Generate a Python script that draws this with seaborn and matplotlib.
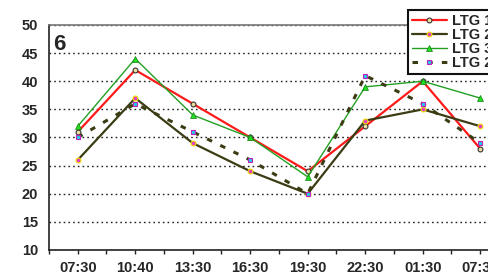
import pandas as pd
import matplotlib.pyplot as plt
import seaborn as sns

# Values
times = ["07:30", "10:40", "13:30", "16:30", "19:30", "22:30", "01:30", "07:30"]
ltg1 = [31, 42, 36, 30, 24, 32, 40, 28]
ltg2 = [26, 37, 29, 24, 20, 33, 35, 32]
ltg3 = [32, 44, 34, 30, 23, 39, 40, 37]
ltg2b = [30, 36, 31, 26, 20, 41, 36, 29]
series_names = ["LTG 1", "LTG 2", "LTG 3", "LTG 2"]

pos = list(range(len(times)))
frames = []
for i, (name, vals) in enumerate(zip(series_names, [ltg1, ltg2, ltg3, ltg2b])):
    frames.append(pd.DataFrame({"pos": pos, "value": vals, "series": f"{i}"}))
df = pd.concat(frames, ignore_index=True)

sns.set_style("white")
plt.rcParams["font.family"] = ["Liberation Sans", "DejaVu Sans"]
plt.rcParams["font.weight"] = "bold"

fig = plt.figure(figsize=(4.88, 2.74), dpi=100)
ax = fig.add_axes([0.1004, 0.0876, 0.9426, 0.8212])

styles = [
    dict(color="#ff1a1a", lw=1.6, marker="o", ms=3.5, mfc="#f0e0a0", mec="#333333", mew=0.8),
    dict(color="#3c3c14", lw=1.6, marker="o", ms=3.5, mfc="#e040c0", mec="#f0e000", mew=0.8),
    dict(color="#22a022", lw=1.0, marker="^", ms=4, mfc="#20e020", mec="#108010", mew=0.5),
    dict(color="#3c3c14", lw=2.2, marker="s", ms=3.5, mfc="#20d0e0", mec="#c020c0", mew=0.8,
         dashes=(1.8, 3)),
]

for i, st in enumerate(styles):
    sub = df[df["series"] == f"{i}"]
    st = dict(st)
    dashes = st.pop("dashes", None)
    sns.lineplot(data=sub, x="pos", y="value", ax=ax, sort=False, label=series_names[i],
                 color=st.pop("color"), linewidth=st.pop("lw"), marker=st.pop("marker"),
                 markersize=st.pop("ms"), markerfacecolor=st.pop("mfc"),
                 markeredgecolor=st.pop("mec"), markeredgewidth=st.pop("mew"))
    if dashes is not None:
        ax.lines[-1].set_dashes(dashes)

ax.set_xlim(-0.5, len(times) - 0.5)
ax.set_ylim(10, 50)
ax.set_yticks(range(10, 51, 5))
ax.set_xticks(pos)
ax.set_xticklabels(times)
ax.set_xticks([p - 0.5 for p in pos] + [len(times) - 0.5], minor=True)
ax.set_xlabel("")
ax.set_ylabel("")
ax.tick_params(axis="x", which="both", direction="out", length=3, width=1, color="#222222",
               bottom=True, labelsize=10.5, pad=5)
ax.tick_params(axis="y", length=0, labelsize=10.5, pad=8)
for lab in ax.get_xticklabels() + ax.get_yticklabels():
    lab.set_fontweight("bold")

ax.grid(axis="y", linestyle=(0, (1.2, 2.2)), color="#222222", linewidth=1.0)
ax.grid(axis="x", visible=False)
for s in ["left", "bottom"]:
    ax.spines[s].set_color("#222222")
    ax.spines[s].set_linewidth(1.2)
ax.spines["top"].set_color("#777777")
ax.spines["top"].set_linewidth(1.2)
ax.spines["right"].set_visible(False)

ax.text(0.01, 0.96, "6", transform=ax.transAxes, fontsize=16, fontweight="bold",
        va="top", ha="left")

ax.get_legend().remove()
handles, labels = ax.get_legend_handles_labels()
leg = fig.legend(handles, labels, loc="upper left", bbox_to_anchor=(0.836, 0.962),
                 frameon=True, fancybox=False, prop={"weight": "bold", "size": 10.5},
                 handlelength=2.4, handletextpad=0.4, labelspacing=0.0,
                 borderpad=0.25, borderaxespad=0)
leg.get_frame().set_edgecolor("#111111")
leg.get_frame().set_linewidth(1.5)
leg.get_frame().set_alpha(1)

fig.savefig("out.png", dpi=100)
